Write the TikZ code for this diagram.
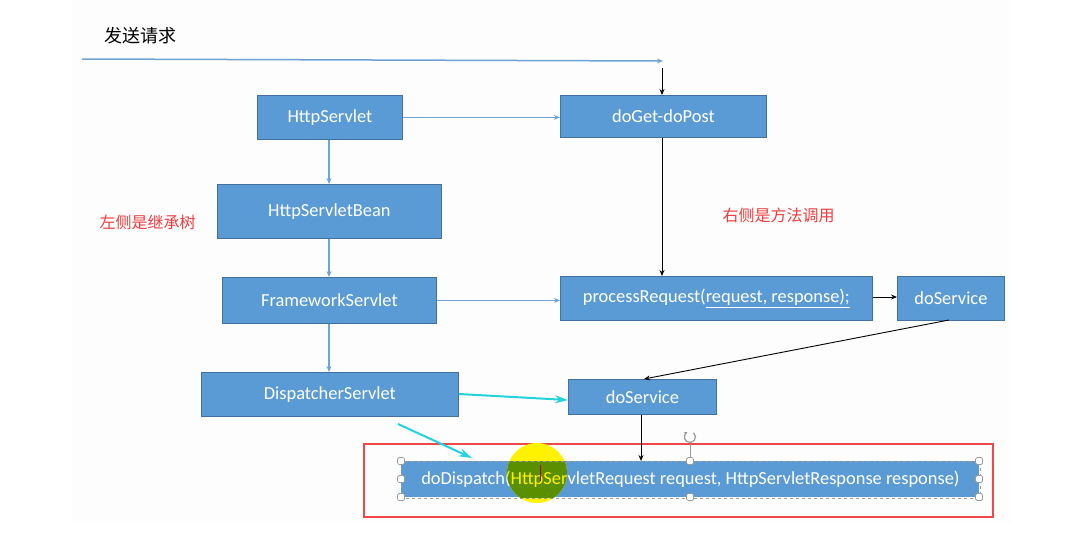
\documentclass[tikz,border=0pt]{standalone}
\usepackage{fontspec}
\setmainfont{Carlito}
\newfontfamily\cjk{Noto Sans CJK SC}
\usetikzlibrary{arrows.meta}
\definecolor{boxblue}{HTML}{5B9BD5}
\definecolor{boxedge}{HTML}{41719C}
\definecolor{lineblue}{HTML}{6FA3D8}
\definecolor{cyanline}{HTML}{22D3DB}
\definecolor{notered}{HTML}{F03C3C}
\definecolor{framered}{HTML}{F04848}
\definecolor{handlegray}{HTML}{9A9A9A}
\definecolor{spot}{HTML}{FFF200}
\definecolor{spotonblue}{HTML}{5A9000}
\tikzset{
  boxfont/.style={font=\fontsize{18.4}{20}\selectfont},
  box/.style={draw=boxedge, line width=0.8pt, fill=boxblue, text=white,
    boxfont, inner sep=0pt, anchor=north west},
  inherit/.style={draw=lineblue, line width=1.2pt, -{Stealth[length=6pt,width=5pt]}},
  call/.style={draw=black, line width=0.9pt, -{Stealth[length=6pt,width=5pt]}},
  hint/.style={draw=cyanline, line width=2pt, -{Stealth[length=13pt,width=8pt]}},
  note/.style={text=notered, font=\cjk\fontsize{16}{18}\selectfont},
  handle/.style={draw=handlegray, fill=white, line width=0.7pt, rounded corners=1.5pt,
    minimum size=7pt, inner sep=0pt},
}
\newcommand{\dispatchtext}{doDispatch(HttpServletRequest request, HttpServletResponse response)}
\begin{document}
\begin{tikzpicture}[x=1pt, y=-1pt]
\useasboundingbox (0,0) rectangle (1076,546);
\fill[white] (0,0) rectangle (1076,546);
\fill[black!0.6] (72,0) rectangle (1012,525);

% request entering from the left
\node[font=\cjk\fontsize{18}{20}\selectfont, anchor=west] (send) at (101,36) {发送请求};
\coordinate (reqA) at (82,59);
\coordinate (reqB) at (663,61);
\coordinate (reqC) at (662,68);
\draw[inherit, line width=1.5pt] (reqA) -- (reqB);

% inheritance tree
\node[box, minimum width=145pt, minimum height=44pt] (hs) at (257,95) {HttpServlet};
\node[box, minimum width=224pt, minimum height=54pt] (hsb) at (217,184) {HttpServletBean};
\node[box, minimum width=214pt, minimum height=46pt] (fs) at (222,277) {FrameworkServlet};
\node[box, minimum width=257pt, minimum height=44pt] (ds) at (201,372) {DispatcherServlet};

% method call chain
\node[box, minimum width=206pt, minimum height=42pt] (dg) at (560,95) {doGet-doPost};
\node[box, minimum width=312pt, minimum height=44pt] (pr) at (560,276)
  {processRequest(\underline{request, response);}};
\node[box, minimum width=107pt, minimum height=44pt] (svc1) at (897,276) {doService};
\node[box, minimum width=148pt, minimum height=35pt] (svc2) at (568,379) {doService};

\node[note, anchor=west] (left) at (96,222) {左侧是继承树};
\node[note, anchor=west] (right) at (719,215) {右侧是方法调用};

% selection frame
\draw[framered, line width=1.6pt] (364,444) rectangle (993,517);
\node[box, draw=none, minimum width=578pt, minimum height=36pt] (dd) at (401,461) {\dispatchtext};

% inheritance links
\draw[inherit] (hs.east) -- (dg.west |- hs.east);
\draw[inherit] (hs.south -| 329,0) -- (hsb.north -| 329,0);
\draw[inherit] (hsb.south -| 329,0) -- (fs.north -| 329,0);
\draw[inherit] (fs.south -| 329,0) -- (ds.north -| 329,0);
\draw[inherit] (fs.east) -- (pr.west |- fs.east);

% calls
\draw[call] (reqC) -- (dg.north -| reqC);
\draw[call] (dg.south -| 662,0) -- (pr.north -| 662,0);
\draw[call] (pr.east |- 0,297) -- (svc1.west |- 0,297);
\draw[call] (949,320) -- (644,379);
\draw[call] (svc2.south -| 641,0) -- (dd.north -| 641,0);

% cyan hints
\draw[hint] (ds.east |- 0,394) -- (svc2.west |- 0,400);
\coordinate (hintA) at (398,424);
\coordinate (hintB) at (472,458);
\draw[hint] (hintA) -- (hintB);

% highlight spot: yellow on white, olive on the blue box, yellow letters inside
\fill[spot] (537,473) circle (30pt);
\begin{scope}
  \clip (537,473) circle (30pt);
  \fill[spotonblue] (dd.north west) rectangle (dd.south east);
  \node[box, draw=none, fill=none, text=spot, minimum width=578pt, minimum height=36pt]
    at (401,461) {\dispatchtext};
\end{scope}
\draw[handlegray, line width=0.6pt, dashed] (dd.north west) rectangle (dd.south east);
\draw[red!75!black, line width=0.6pt] (540,465) -- (540,481);

% selection handles
\draw[handlegray, line width=0.7pt] (690,444) -- (690,458);
\draw[handlegray, line width=1.2pt, -{Stealth[length=3pt,width=3.5pt]}]
  (690,437) ++(-50:5.5) arc[start angle=-50, end angle=240, radius=5.5];
\foreach \hx/\hy in {401/461, 690/461, 979/461, 401/479, 979/479, 401/497, 690/497, 979/497}
  \node[handle] at (\hx,\hy) {};
\end{tikzpicture}
\end{document}
